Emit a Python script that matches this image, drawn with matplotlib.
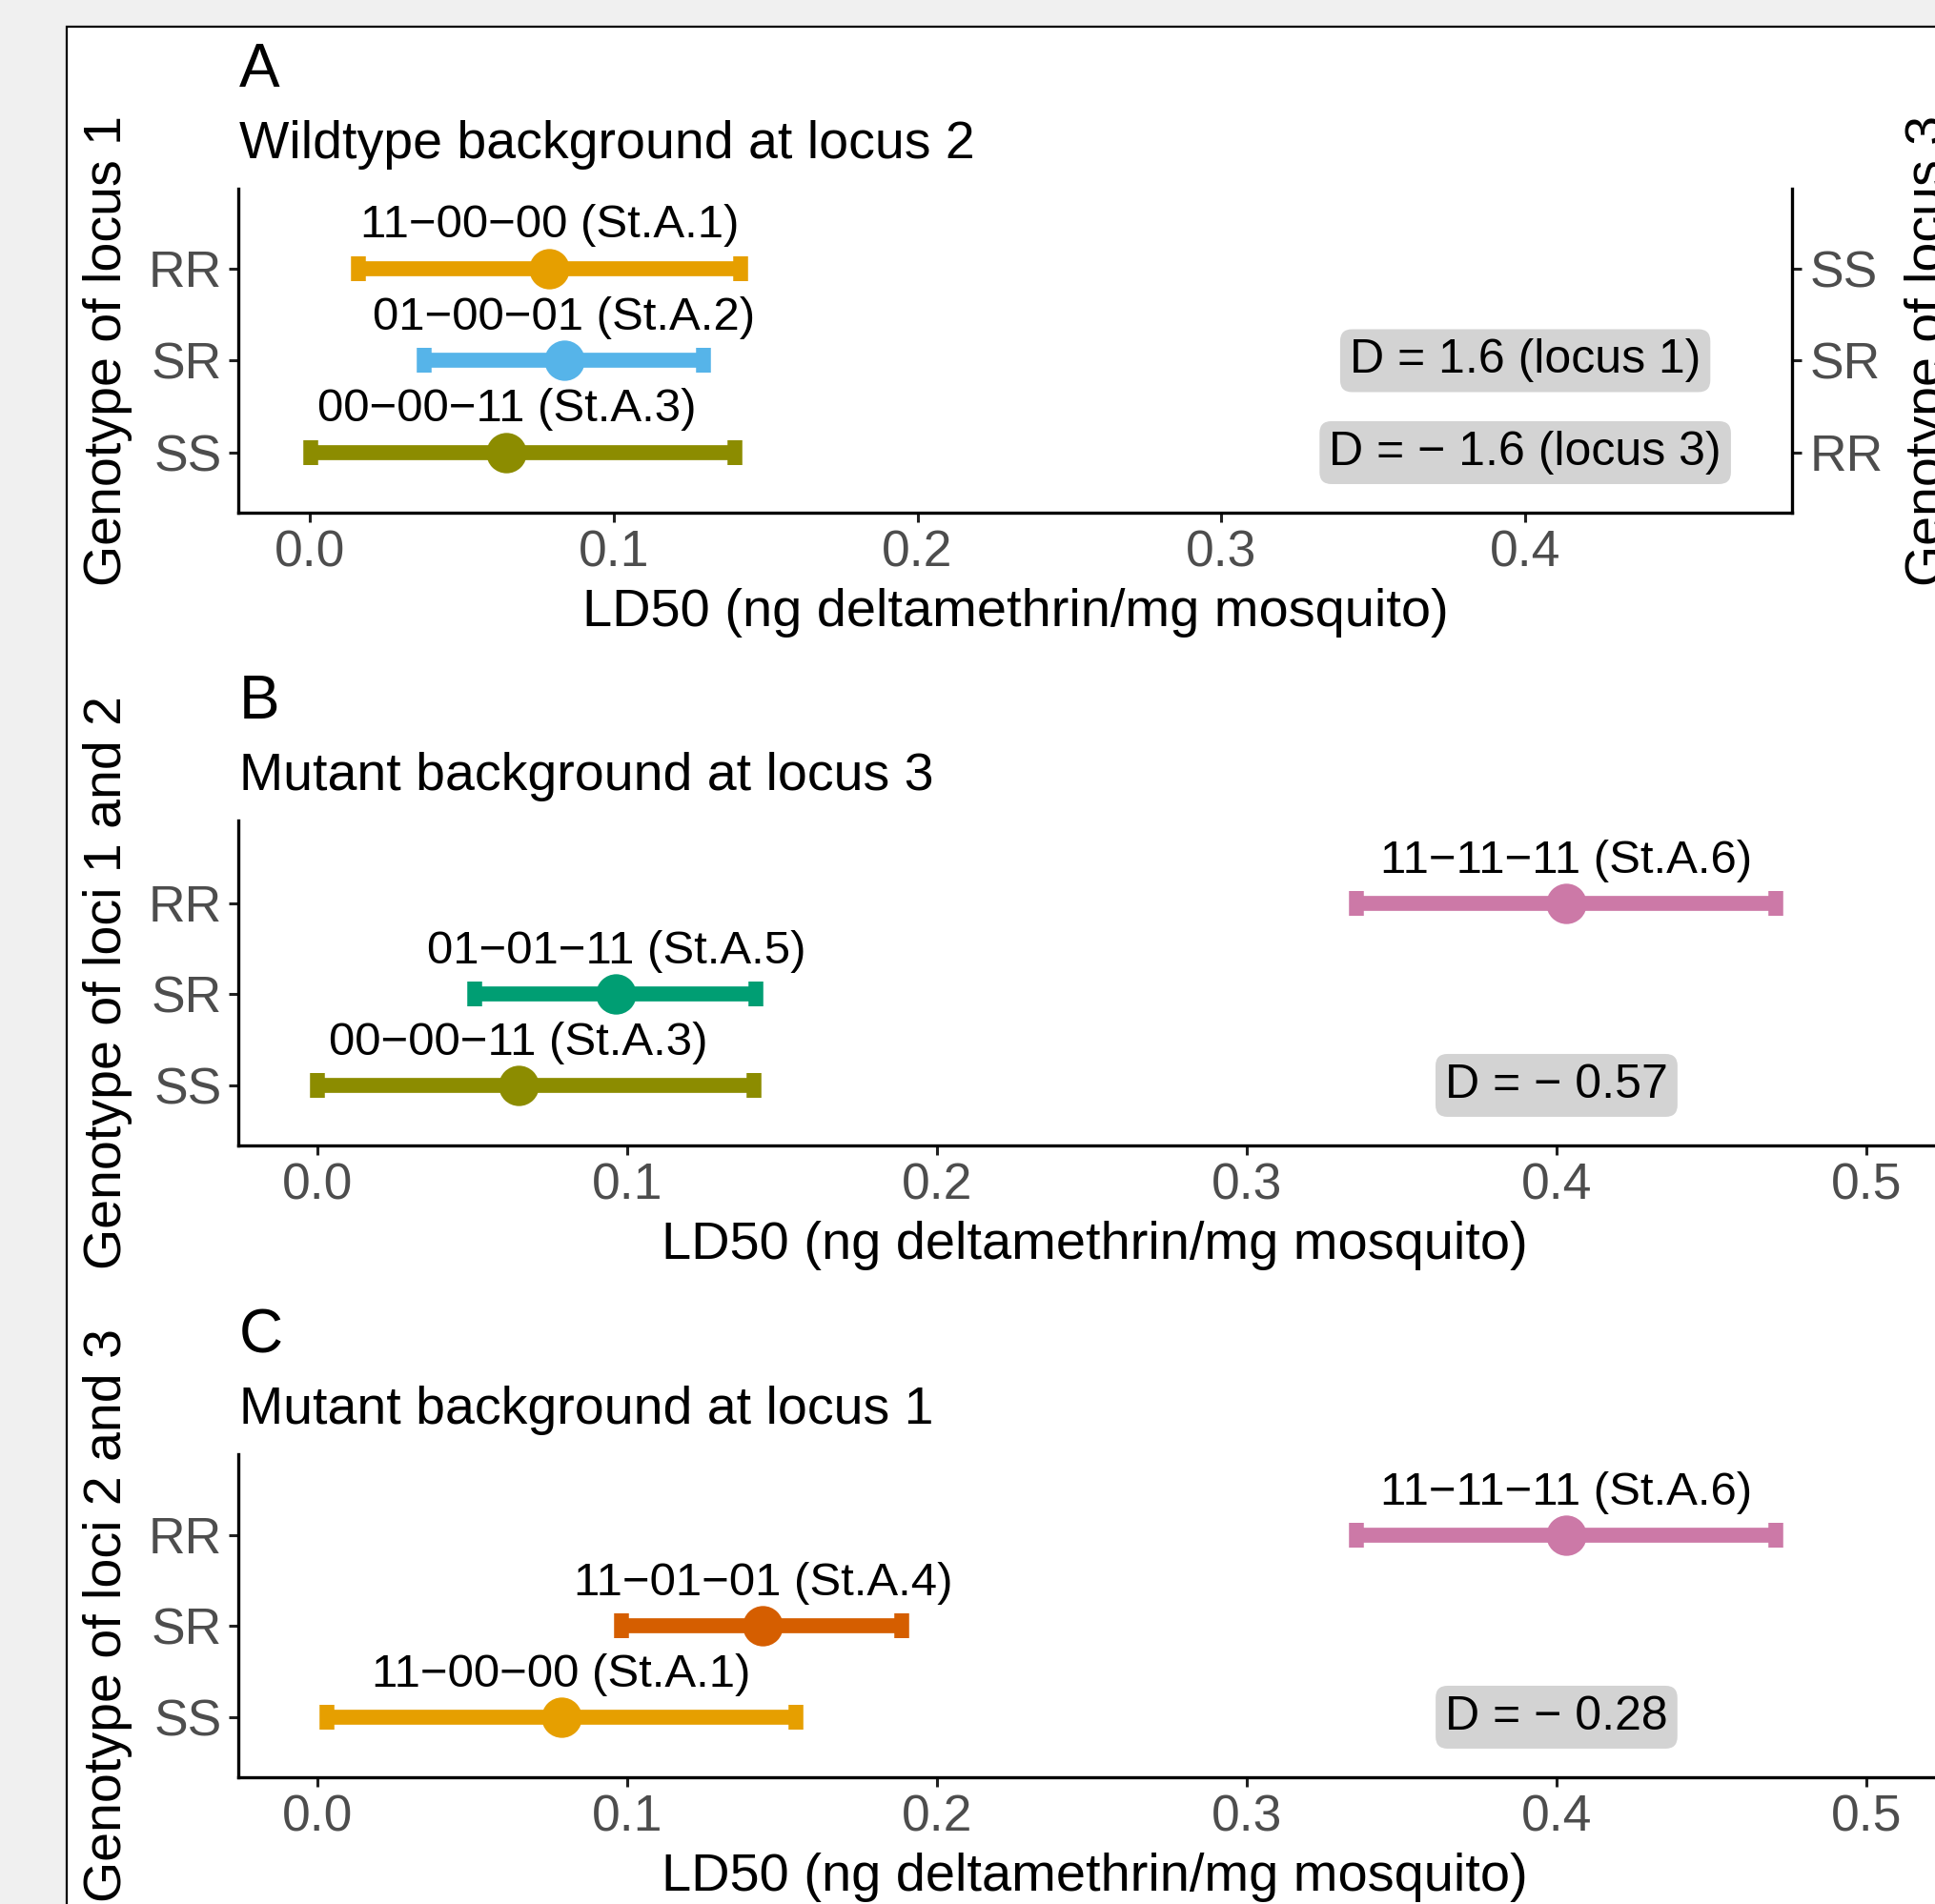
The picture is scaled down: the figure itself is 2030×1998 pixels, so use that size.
import matplotlib
matplotlib.use("Agg")
import matplotlib.pyplot as plt
from matplotlib.patches import Rectangle
from matplotlib.transforms import blended_transform_factory

plt.rcParams['font.family'] = ['Liberation Sans', 'DejaVu Sans']

W, H = 2031, 1998
DPI = 100

# ---------------- data ----------------
genotypes = ['SS', 'SR', 'RR']          # y positions 1, 2, 3
genotypes_right = ['RR', 'SR', 'SS']    # secondary axis of panel A
x_ticks = [0.0, 0.1, 0.2, 0.3, 0.4, 0.5]

a_labels = ['00−00−11 (St.A.3)', '01−00−01 (St.A.2)', '11−00−00 (St.A.1)']
a_mid = [0.0647, 0.0836, 0.0788]
a_lo = [0.0002, 0.0377, 0.0159]
a_hi = [0.1399, 0.1296, 0.1419]
a_colors = ['#8C8C00', '#56B4E9', '#E69F00']
a_notes = ['D = − 1.6 (locus 3)', 'D = 1.6 (locus 1)']   # at SS, SR

b_labels = ['00−00−11 (St.A.3)', '01−01−11 (St.A.5)', '11−11−11 (St.A.6)']
b_mid = [0.0648, 0.0964, 0.4030]
b_lo = [0.0000, 0.0509, 0.3353]
b_hi = [0.1410, 0.1415, 0.4708]
b_colors = ['#8C8C00', '#009E73', '#CC79A7']
b_notes = ['D = − 0.57']

c_labels = ['11−00−00 (St.A.1)', '11−01−01 (St.A.4)', '11−11−11 (St.A.6)']
c_mid = [0.0787, 0.1438, 0.4030]
c_lo = [0.0031, 0.0982, 0.3353]
c_hi = [0.1544, 0.1887, 0.4708]
c_colors = ['#E69F00', '#D55E00', '#CC79A7']
c_notes = ['D = − 0.28']
note_x = 0.4

xlab = 'LD50 (ng deltamethrin/mg mosquito)'

# ---------------- figure ----------------
fig = plt.figure(figsize=(W / DPI, H / DPI), dpi=DPI, facecolor='#F0F0F0')
fig.patches.append(Rectangle((70 / W, -0.1), 2.0, 1 - 28 / H + 0.1,
                             transform=fig.transFigure, facecolor='white',
                             edgecolor='black', linewidth=1.6, zorder=-5))

TICK_GRAY = '#4D4D4D'


def add_ax(l, r, t, b):
    return fig.add_axes([l / W, 1 - b / H, (r - l) / W, (b - t) / H])


def panel(l, r, t, b, xlim, ylim, mids, los, his, cols, labels, notes,
          letter, subtitle, ylabel):
    ax = add_ax(l, r, t, b)
    ax.set_facecolor('none')
    for i, (m, lo, hi, c, lab) in enumerate(zip(mids, los, his, cols, labels)):
        y = i + 1
        ax.errorbar(m, y, xerr=[[m - lo], [hi - m]], fmt='none', ecolor=c,
                    elinewidth=11.3, capsize=9.5, capthick=11.2, zorder=3)
        ax.plot([m], [y], 'o', color=c, ms=30.5, mew=0, zorder=4)
        ax.text(m, y + 0.47, lab, ha='center', va='center', fontsize=35.4,
                color='black')
    for j, note in enumerate(notes):
        ax.text(note_x, 1 + j, note, ha='center', va='center', fontsize=36,
                color='black',
                bbox=dict(boxstyle='round,pad=0.2,rounding_size=0.25',
                          fc='#D3D3D3', ec='none'))
    ax.set_xticks(x_ticks)
    ax.set_xticklabels([f'{v:.1f}' for v in x_ticks])
    ax.set_yticks([1, 2, 3])
    ax.set_yticklabels(genotypes)
    ax.set_xlim(*xlim)
    ax.set_ylim(*ylim)
    for s in ['top', 'right']:
        ax.spines[s].set_visible(False)
    for s in ['left', 'bottom']:
        ax.spines[s].set_linewidth(2.4)
    ax.tick_params(axis='both', length=7.2, width=2.2, pad=5.4,
                   labelsize=38.5, labelcolor=TICK_GRAY, color='#222222')
    # x label
    ax.set_xlabel(xlab, fontsize=40.3, va='baseline')
    ax.xaxis.set_label_coords(0.5, 1 - (b + 119) / H,
                              transform=blended_transform_factory(ax.transAxes, fig.transFigure))
    # y label
    ax.set_ylabel(ylabel, fontsize=40, va='center', rotation=90)
    ax.yaxis.set_label_coords(113 / W, 1 - ((t + b) / 2) / H, transform=fig.transFigure)
    # letter and subtitle
    fig.text(251 / W, 1 - (t - 107) / H, letter, fontsize=46, va='baseline', ha='left')
    fig.text(251 / W, 1 - (t - 32) / H, subtitle, fontsize=40, va='baseline', ha='left')
    return ax


# Panel A
axA = panel(250, 1880, 198, 538, (-0.02353, 0.4878), (0.347, 3.870),
            a_mid, a_lo, a_hi, a_colors, a_labels, a_notes,
            'A', 'Wildtype background at locus 2', 'Genotype of locus 1')
axA2 = axA.twinx()
axA2.set_yticks([1, 2, 3])
axA2.set_yticklabels(genotypes_right)
axA2.set_ylim(axA.get_ylim())
axA.set_xlim(-0.02353, 0.4878)
for s in ['top', 'left', 'bottom']:
    axA2.spines[s].set_visible(False)
axA2.spines['right'].set_linewidth(2.4)
axA2.tick_params(axis='y', length=7.2, width=2.2, pad=6.5, labelsize=38.5,
                 labelcolor=TICK_GRAY, color='#222222')
axA2.set_ylabel('Genotype of locus 3', fontsize=40, va='center', rotation=90)
axA2.yaxis.set_label_coords(2024 / W, 1 - 368 / H, transform=fig.transFigure)

# Panel B
panel(250, 2046, 861, 1202, (-0.02554, 0.5271), (0.340, 3.911),
      b_mid, b_lo, b_hi, b_colors, b_labels, b_notes,
      'B', 'Mutant background at locus 3', 'Genotype of loci 1 and 2')

# Panel C
panel(250, 2046, 1526, 1865, (-0.02554, 0.5271), (0.340, 3.890),
      c_mid, c_lo, c_hi, c_colors, c_labels, c_notes,
      'C', 'Mutant background at locus 1', 'Genotype of loci 2 and 3')

fig.savefig('out.png', dpi=DPI, facecolor=fig.get_facecolor())
